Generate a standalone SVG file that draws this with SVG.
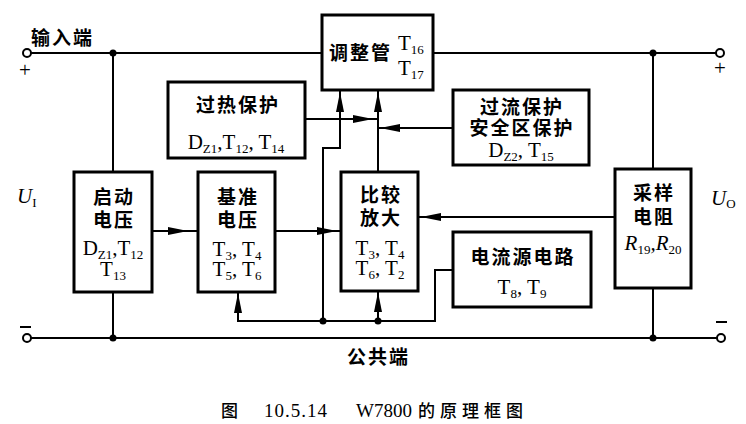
<svg xmlns="http://www.w3.org/2000/svg" width="746" height="424" viewBox="0 0 746 424">
<style>
.box{fill:#fff;stroke:#000;stroke-width:3}
.ln{fill:none;stroke:#000;stroke-width:2}
.cn{font-family:"Noto Sans CJK SC",sans-serif;font-weight:700;font-size:19px;letter-spacing:2px}
.lt{font-family:"Liberation Serif",serif;font-size:21px}
.it{font-family:"Liberation Serif",serif;font-style:italic;font-size:21px}
.sub{font-size:13px;font-style:normal}
.cap{font-family:"Noto Sans CJK SC",sans-serif;font-size:17px;font-weight:500}
.capl{font-family:"Liberation Serif",serif;font-size:19px}
.term{fill:#fff;stroke:#000;stroke-width:2}
</style>
<defs>
<path id="ah" d="M0,0 L-20,-4 L-20,4 Z" fill="#000"/>
</defs>
<rect width="746" height="424" fill="#fff"/>
<g id="connectors">
<path class="ln" d="M31,53 H322 M433,53 H716"/>
<path class="ln" d="M31,338 H718"/>
<path class="ln" d="M113,53 V172 M113,292 V338"/>
<path class="ln" d="M653,53 V169 M653,288 V338"/>
<path class="ln" d="M152,231 H198"/>
<path class="ln" d="M275,231 H341"/>
<path class="ln" d="M615,217 H418"/>
<path class="ln" d="M378,172 V90"/>
<path class="ln" d="M323,321 V148 H340 V90"/>
<path class="ln" d="M305,119 H378"/>
<path class="ln" d="M453,128 H378"/>
<path class="ln" d="M238,292 V321 H435 V270 H453"/>
<path class="ln" d="M378,321 V291"/>
<use href="#ah" transform="translate(188,231)"/>
<use href="#ah" transform="translate(337,231)"/>
<use href="#ah" transform="translate(373,119)"/>
<use href="#ah" transform="translate(380,128) rotate(180)"/>
<use href="#ah" transform="translate(421,217) rotate(180)"/>
<use href="#ah" transform="translate(340,92) rotate(-90)"/>
<use href="#ah" transform="translate(378,92) rotate(-90)"/>
<use href="#ah" transform="translate(378,292) rotate(-90)"/>
<use href="#ah" transform="translate(238,293) rotate(-90)"/>
<circle cx="113" cy="53" r="3.5"/>
<circle cx="653" cy="53" r="3.5"/>
<circle cx="113" cy="338" r="3.5"/>
<circle cx="653" cy="338" r="3.5"/>
<circle cx="323" cy="321" r="3.5"/>
<circle cx="378" cy="321" r="3.5"/>
<circle class="term" cx="27" cy="53" r="4"/>
<circle class="term" cx="720" cy="53" r="4"/>
<circle class="term" cx="27" cy="338" r="4"/>
<circle class="term" cx="721" cy="338" r="4"/>
</g>
<g id="terminals">
<text class="cn" x="31" y="45">输入端</text>
<text class="cn" x="347" y="364">公共端</text>
<text class="lt" x="25" y="77" text-anchor="middle">+</text>
<text class="lt" x="720" y="75" text-anchor="middle">+</text>
<path class="ln" d="M20,327 H31 M716,322 H727"/>
<text class="it" x="17" y="203">U<tspan class="sub" dy="4">I</tspan></text>
<text class="it" x="711" y="205">U<tspan class="sub" dy="3">O</tspan></text>
</g>
<g id="regulator">
<rect class="box" x="322" y="15" width="111" height="75"/>
<text class="cn" x="329" y="60">调整管</text>
<text class="lt" x="398" y="50">T<tspan class="sub" dy="4">16</tspan></text>
<text class="lt" x="398" y="75">T<tspan class="sub" dy="4">17</tspan></text>
</g>
<g id="overheat">
<rect class="box" x="168" y="82" width="137" height="76"/>
<text class="cn" x="238" y="112" text-anchor="middle">过热保护</text>
<text class="lt" x="236" y="149" text-anchor="middle">D<tspan class="sub" dy="4">Z1</tspan><tspan dy="-4">,T</tspan><tspan class="sub" dy="4">12</tspan><tspan dy="-4">, T</tspan><tspan class="sub" dy="4">14</tspan></text>
</g>
<g id="overcurrent">
<rect class="box" x="453" y="90" width="136" height="75"/>
<text class="cn" x="522" y="114" text-anchor="middle">过流保护</text>
<text class="cn" x="522" y="135" text-anchor="middle">安全区保护</text>
<text class="lt" x="521" y="157" text-anchor="middle">D<tspan class="sub" dy="4">Z2</tspan><tspan dy="-4">, T</tspan><tspan class="sub" dy="4">15</tspan></text>
</g>
<g id="startup">
<rect class="box" x="74" y="172" width="78" height="120"/>
<text class="cn" x="114" y="204" text-anchor="middle">启动</text>
<text class="cn" x="114" y="227" text-anchor="middle">电压</text>
<text class="lt" x="113" y="255" text-anchor="middle">D<tspan class="sub" dy="4">Z1</tspan><tspan dy="-4">,T</tspan><tspan class="sub" dy="4">12</tspan></text>
<text class="lt" x="113" y="276" text-anchor="middle">T<tspan class="sub" dy="4">13</tspan></text>
</g>
<g id="reference">
<rect class="box" x="198" y="172" width="77" height="120"/>
<text class="cn" x="238" y="204" text-anchor="middle">基准</text>
<text class="cn" x="238" y="227" text-anchor="middle">电压</text>
<text class="lt" x="237" y="256" text-anchor="middle">T<tspan class="sub" dy="4">3</tspan><tspan dy="-4">, T</tspan><tspan class="sub" dy="4">4</tspan></text>
<text class="lt" x="237" y="276" text-anchor="middle">T<tspan class="sub" dy="4">5</tspan><tspan dy="-4">, T</tspan><tspan class="sub" dy="4">6</tspan></text>
</g>
<g id="amplifier">
<rect class="box" x="341" y="172" width="77" height="119"/>
<text class="cn" x="381" y="202" text-anchor="middle">比较</text>
<text class="cn" x="381" y="225" text-anchor="middle">放大</text>
<text class="lt" x="380" y="255" text-anchor="middle">T<tspan class="sub" dy="4">3</tspan><tspan dy="-4">, T</tspan><tspan class="sub" dy="4">4</tspan></text>
<text class="lt" x="380" y="275" text-anchor="middle">T<tspan class="sub" dy="4">6</tspan><tspan dy="-4">, T</tspan><tspan class="sub" dy="4">2</tspan></text>
</g>
<g id="currentsource">
<rect class="box" x="453" y="232" width="138" height="75"/>
<text class="cn" x="523" y="264" text-anchor="middle">电流源电路</text>
<text class="lt" x="522" y="294" text-anchor="middle">T<tspan class="sub" dy="4">8</tspan><tspan dy="-4">,  T</tspan><tspan class="sub" dy="4">9</tspan></text>
</g>
<g id="sampling">
<rect class="box" x="615" y="169" width="76" height="119"/>
<text class="cn" x="654" y="200" text-anchor="middle">采样</text>
<text class="cn" x="654" y="224" text-anchor="middle">电阻</text>
<text class="it" x="653" y="250" text-anchor="middle">R<tspan class="sub" dy="4">19</tspan><tspan dy="-4">,R</tspan><tspan class="sub" dy="4">20</tspan></text>
</g>
<g id="caption">
<text class="cap" x="221" y="417">图</text>
<text class="capl" x="264" y="417" letter-spacing="1">10.5.14</text>
<text class="capl" x="356" y="417">W7800</text>
<text class="cap" x="418" y="417" letter-spacing="5">的原理框图</text>
</g>
</svg>
